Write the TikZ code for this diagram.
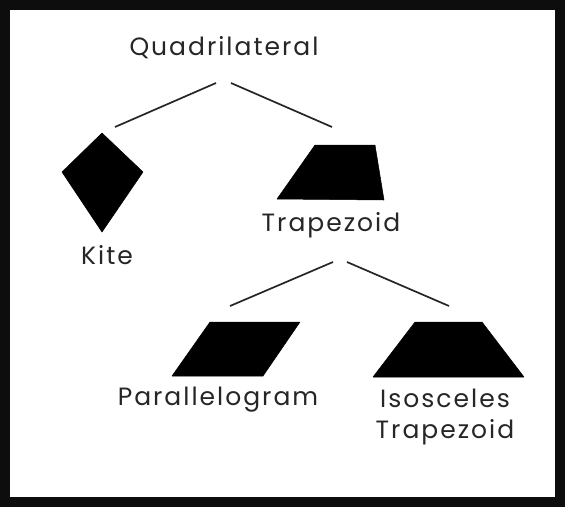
\documentclass[tikz,border=0pt]{standalone}
\usepackage{fontspec}
\setmainfont{Poppins}[LetterSpace=8]
\begin{document}
\begin{tikzpicture}[x=1pt,y=-1pt,
  lbl/.style={font=\fontsize{25}{34}\selectfont, text=black!85, inner sep=0pt, anchor=center},
  conn/.style={line width=1.7pt, black!85},
  shapefill/.style={fill=black, draw=black, line width=0.5pt, line join=round}]
\fill[black!95] (0,0) rectangle (565,507);
\fill[white] (10,10) rectangle (555,497);
\useasboundingbox (0,0) rectangle (565,507);
% labels
\node[lbl] (quad) at (224,48) {Quadrilateral};
\node[lbl] (kite) at (107,255) {Kite};
\node[lbl] (trap) at (331,225) {Trapezoid};
\node[lbl] (para) at (218,400) {Parallelogram};
\node[lbl, align=center, font=\fontsize{25}{31}\selectfont] (isos) at (445,417) {Isosceles\\Trapezoid};
% shapes
\fill[shapefill] (102,133) -- (62,172) -- (102,232) -- (143,172) -- cycle;
\fill[shapefill] (315,145) -- (375,145) -- (384,200) -- (277,199) -- cycle;
\fill[shapefill] (210,322) -- (300,322) -- (263,376) -- (172,376) -- cycle;
\fill[shapefill] (415,322) -- (482,322) -- (524,377) -- (373,377) -- cycle;
% connector ends
\coordinate (q1) at (216,83);
\coordinate (q2) at (231,83);
\coordinate (k1) at (115,127);
\coordinate (t1) at (332,127);
\coordinate (t2) at (333,262);
\coordinate (t3) at (347,262);
\coordinate (p1) at (230,306);
\coordinate (i1) at (449,306);
\draw[conn] (q1) -- (k1);
\draw[conn] (q2) -- (t1);
\draw[conn] (t2) -- (p1);
\draw[conn] (t3) -- (i1);
\end{tikzpicture}
\end{document}
